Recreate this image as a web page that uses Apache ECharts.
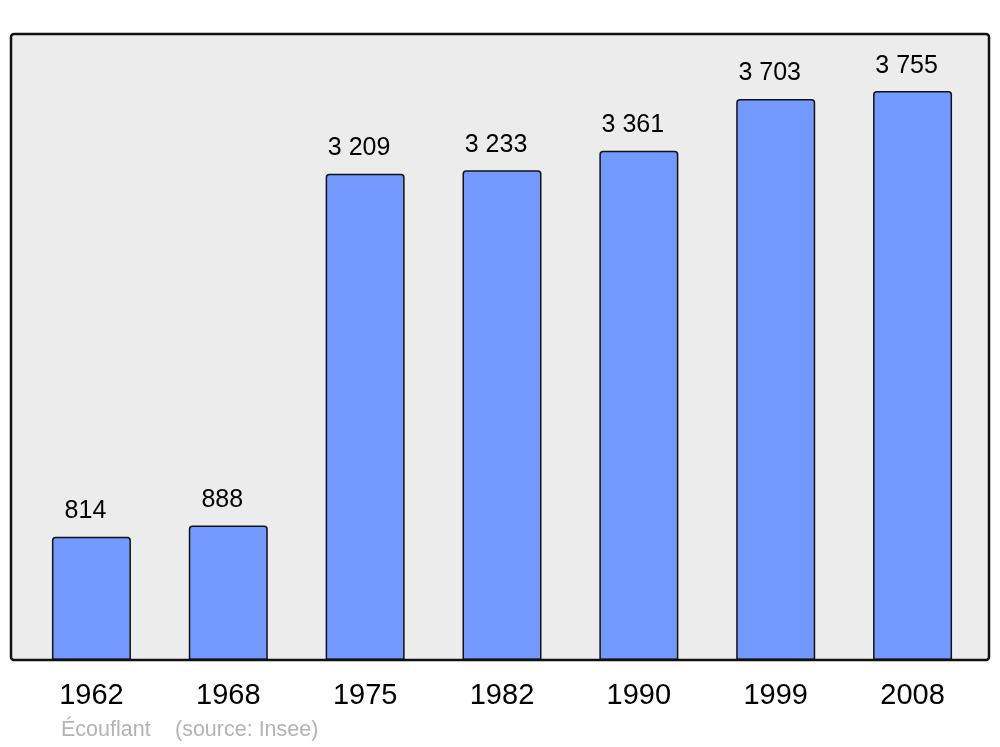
<!DOCTYPE html>
<html><head><meta charset="utf-8">
<script src="https://cdn.jsdelivr.net/npm/echarts@6/dist/echarts.min.js"></script>
<style>html,body{margin:0;padding:0;background:#fff}#c{width:1000px;height:747px}</style>
</head><body><div id="c"></div>
<script>
const years = ['1962','1968','1975','1982','1990','1999','2008'];
const population = [814, 888, 3209, 3233, 3361, 3703, 3755];
const footerTitle = 'Écouflant';
const footerSource = '(source: Insee)';

function fmt(v){ return String(v).replace(/\B(?=(\d{3})+(?!\d))/g, ' '); }

const chart = echarts.init(document.getElementById('c'), null, {renderer:'canvas'});
chart.setOption({
  animation: false,
  textStyle: {fontFamily: 'Liberation Sans, Arial, sans-serif'},
  graphic: [
    {type:'rect', z:-10, shape:{x:11, y:34, width:978, height:626, r:3}, style:{fill:'#ececec', stroke:null}},
    {type:'rect', z:100, shape:{x:11, y:34, width:978, height:626, r:3}, style:{fill:null, stroke:'#111', lineWidth:2.5}},
    {type:'text', left:61, top:719, style:{text:footerTitle, fill:'#b3b3b3', font:'21.5px "Liberation Sans", Arial, sans-serif'}},
    {type:'text', left:175, top:719, style:{text:footerSource, fill:'#b3b3b3', font:'21.5px "Liberation Sans", Arial, sans-serif'}}
  ],
  grid: {left:23, right:19, top:34, bottom:87},
  xAxis: {
    type:'category', data: years,
    axisLine:{show:false}, axisTick:{show:false},
    axisLabel:{color:'#000', fontSize:29, margin:21, fontFamily:'Liberation Sans, Arial, sans-serif'}
  },
  yAxis: {type:'value', min:0, max:4132, show:false, splitLine:{show:false}},
  series: [{
    type:'bar', data: population, barWidth:79,
    itemStyle:{color:'#7399ff', borderColor:'#111', borderWidth:1.5, borderRadius:[3,3,0,0]},
    label:{show:true, position:'top', distance:13, offset:[-6,0], color:'#000', fontSize:25,
      fontFamily:'Liberation Sans, Arial, sans-serif',
      formatter: p => fmt(p.value)}
  }]
});
</script></body></html>
